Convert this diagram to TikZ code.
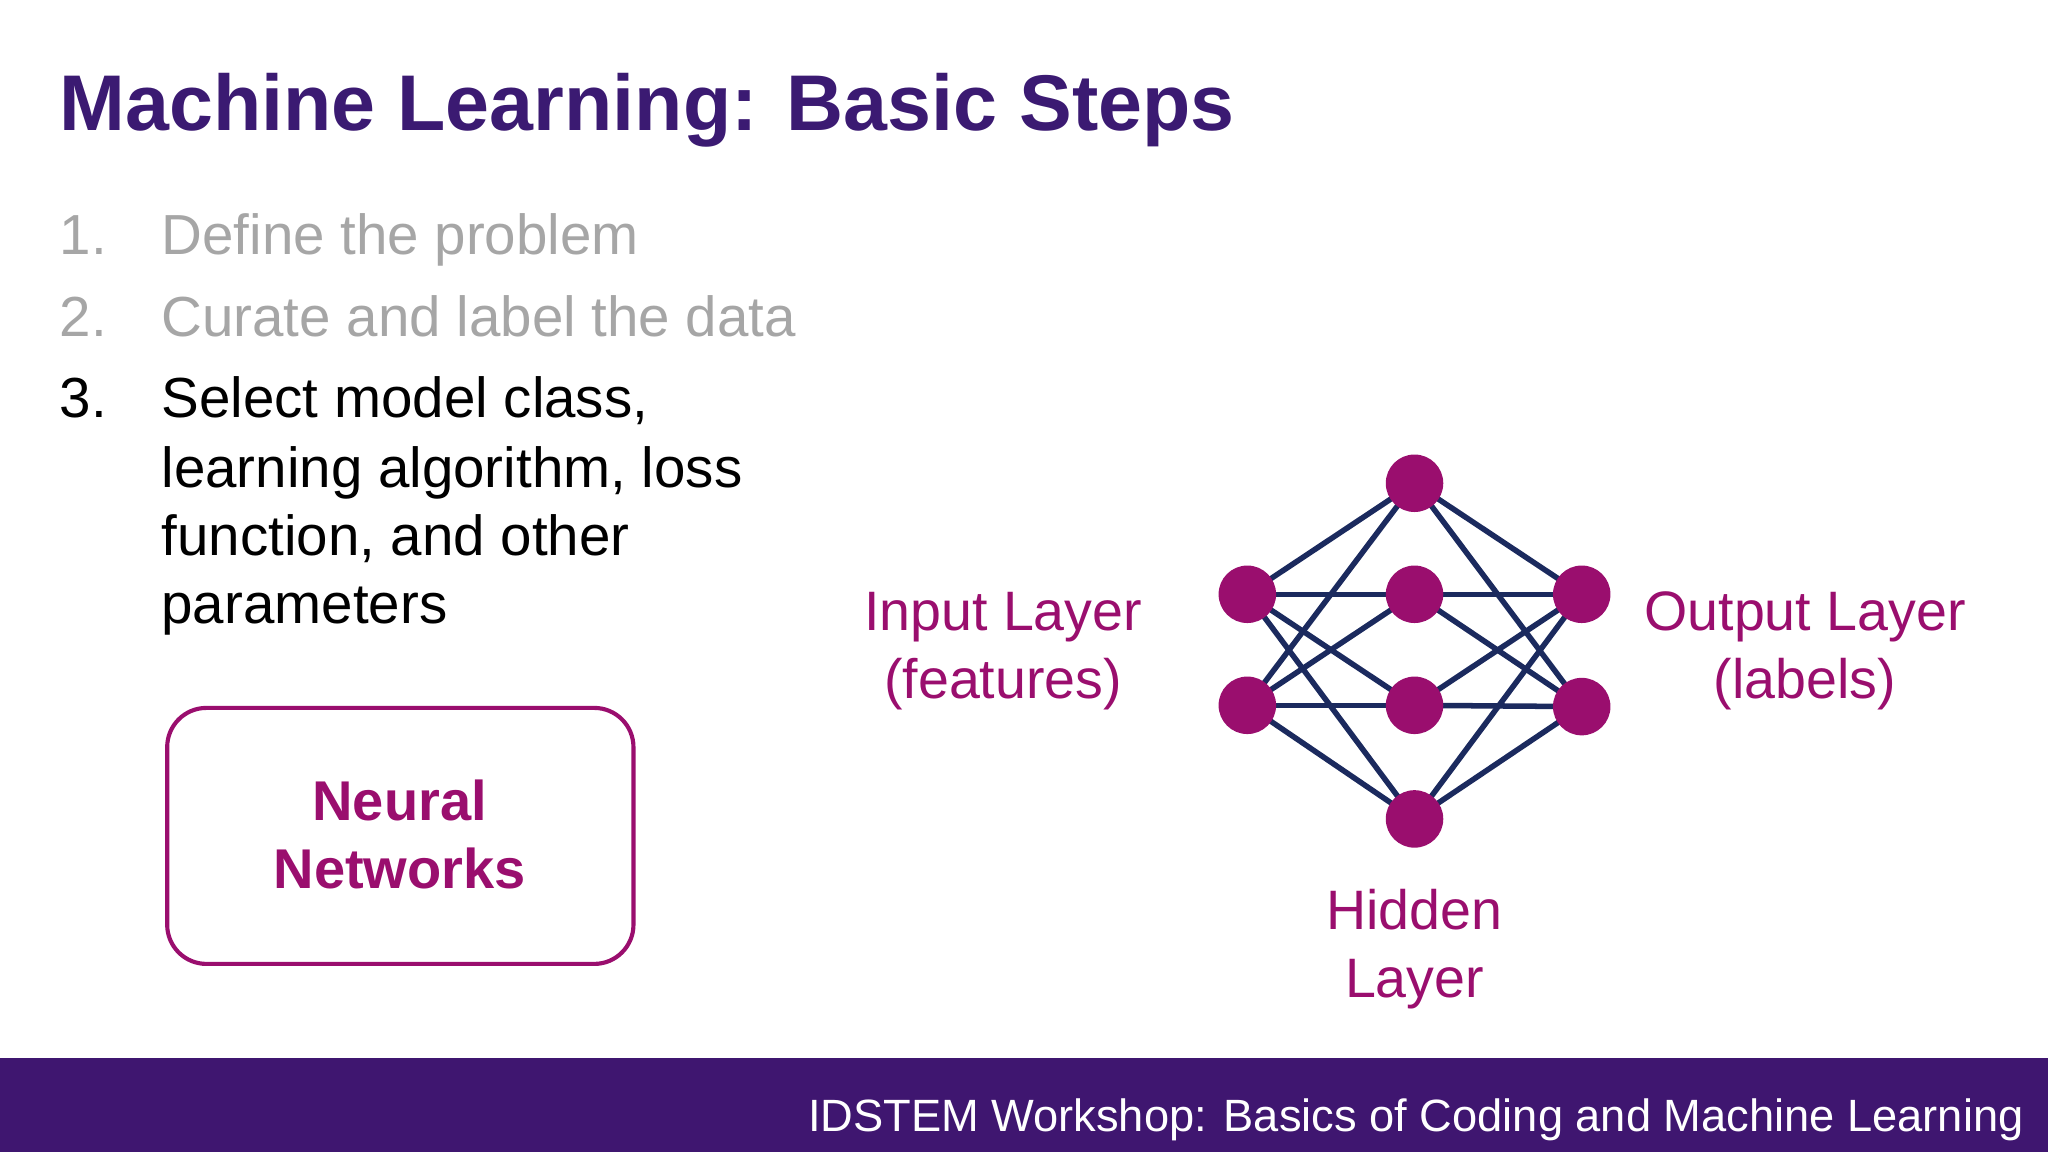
\documentclass[tikz,border=0pt]{standalone}
\usepackage{fontspec}
\setmainfont{Liberation Sans}
\definecolor{ttl}{HTML}{3B1A72}
\definecolor{mag}{HTML}{9A0E6E}
\definecolor{gry}{HTML}{A6A6A6}
\definecolor{navy}{HTML}{1B2A5E}
\definecolor{band}{HTML}{3F1670}
\begin{document}
\begin{tikzpicture}[x=0.01cm,y=-0.01cm,
  txt/.style={anchor=base west,inner sep=0,font=\fontsize{12.3}{14}\selectfont},
  lbl/.style={anchor=base,inner sep=0,text=mag,font=\fontsize{12.1}{14}\selectfont},
  neuron/.style={circle,fill=mag,minimum size=0.44cm,inner sep=0},
  edge/.style={draw=navy,line width=1.2pt}]
\useasboundingbox (0,0) rectangle (1568,882);
\fill[band] (0,810) rectangle (1568,882);
\node[anchor=base east,inner sep=0,text=white,font=\fontsize{9.85}{12}\selectfont] (foot) at (1550,866) {IDSTEM Workshop: Basics of Coding and Machine Learning};
\node[anchor=base west,inner sep=0,text=ttl,font=\fontsize{17.2}{20}\selectfont\bfseries] (title) at (45,100) {Machine Learning: Basic Steps};
\node[txt,text=gry] (n1) at (45,195) {1.};
\node[txt,text=gry] (t1) at (123,195) {Define the problem};
\node[txt,text=gry] (n2) at (45,258) {2.};
\node[txt,text=gry] (t2) at (123,258) {Curate and label the data};
\node[txt] (n3) at (45,320) {3.};
\node[txt] (t3a) at (123,320) {Select model class,};
\node[txt] (t3b) at (123,373) {learning algorithm, loss};
\node[txt] (t3c) at (123,425) {function, and other};
\node[txt] (t3d) at (123,477) {parameters};
\draw[mag,line width=0.9pt,rounded corners=0.3cm] (128,542) rectangle (485,738);
\node[lbl,font=\fontsize{12.2}{14}\selectfont\bfseries] (nn1) at (306,628) {Neural};
\node[lbl,font=\fontsize{12.2}{14}\selectfont\bfseries] (nn2) at (306,680) {Networks};
\node[lbl] (il1) at (768,483) {Input Layer};
\node[lbl] (il2) at (768,535) {(features)};
\node[lbl] (ol1) at (1382,483) {Output Layer};
\node[lbl] (ol2) at (1382,535) {(labels)};
\node[lbl] (hl1) at (1083,712) {Hidden};
\node[lbl] (hl2) at (1083,764) {Layer};
\foreach \i/\y in {1/455,2/540}{\coordinate (i\i) at (955,\y);}
\foreach \i/\y in {1/370,2/455,3/540,4/627}{\coordinate (h\i) at (1083,\y);}
\foreach \i/\y in {1/455,2/541}{\coordinate (o\i) at (1211,\y);}
\foreach \a in {1,2}{\foreach \b in {1,2,3,4}{\draw[edge] (i\a)--(h\b); \draw[edge] (h\b)--(o\a);}}
\foreach \n in {i1,i2,h1,h2,h3,h4,o1,o2}{\node[neuron] at (\n) {};}
\end{tikzpicture}
\end{document}
